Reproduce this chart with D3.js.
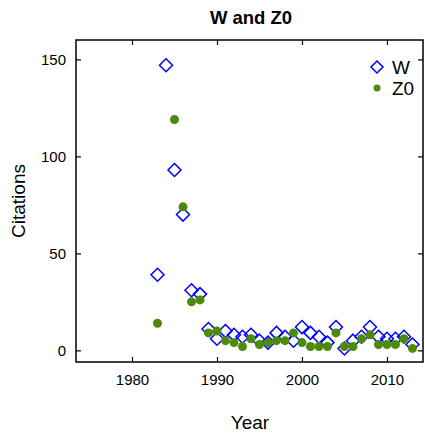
<!DOCTYPE html>
<html><head><meta charset="utf-8">
<script src="https://cdn.jsdelivr.net/npm/d3@7/dist/d3.min.js"></script>
<style>body{margin:0;background:#fff;} text{font-family:"Liberation Sans",Arial,sans-serif;}</style>
</head><body>
<svg id="c" width="425" height="434"></svg>
<script>
const years = [1983,1984,1985,1986,1987,1988,1989,1990,1991,1992,1993,1994,1995,1996,1997,1998,1999,2000,2001,2002,2003,2004,2005,2006,2007,2008,2009,2010,2011,2012,2013];
const wValues = [39,147,93,70,31,29,11,6,10,8,7,8,5,4,9,7,5,12,9,7,4,12,1,5,7,12,7,6,6,7,3];
const z0Values = [14,null,119,74,25,26,9,10,5,4,2,6,3,4,5,5,9,4,2,2,2,9,2,2,6,8,3,3,3,6,1];
const xTicks = [1980,1990,2000,2010];
const yTicks = [0,50,100,150];
const seriesNames = ["W","Z0"];

const svg = d3.select("#c");
const L=76,R=423,T=40,B=362;
const x = d3.scaleLinear().domain([1973.41,2014.24]).range([L,R]);
const y = d3.scaleLinear().domain([-6,160]).range([B,T]);
const blue="#0000ff", green="#4b8a0b";

// frame
svg.append("rect").attr("x",L).attr("y",T).attr("width",R-L).attr("height",B-T)
  .attr("fill","none").attr("stroke","#000").attr("stroke-width",1.5);

// axes
const gx = svg.append("g").attr("transform",`translate(0,${B})`)
  .call(d3.axisBottom(x).tickValues(xTicks).tickFormat(d3.format("d")).tickSizeInner(-5).tickSizeOuter(0).tickPadding(12));
const gxt = svg.append("g").attr("transform",`translate(0,${T})`)
  .call(d3.axisTop(x).tickValues(xTicks).tickFormat("").tickSizeInner(-5).tickSizeOuter(0));
const gy = svg.append("g").attr("transform",`translate(${L},0)`)
  .call(d3.axisLeft(y).tickValues(yTicks).tickSizeInner(-5).tickSizeOuter(0).tickPadding(10));
const gyr = svg.append("g").attr("transform",`translate(${R},0)`)
  .call(d3.axisRight(y).tickValues(yTicks).tickFormat("").tickSizeInner(-5).tickSizeOuter(0));
[gx,gxt,gy,gyr].forEach(g=>{g.select(".domain").remove();g.selectAll("line").attr("stroke","#000").attr("stroke-width",1.2);
  g.selectAll("text").attr("font-size",15).attr("fill","#000").style("font-family","'Liberation Sans',Arial,sans-serif");});

// W diamonds
const ds=6.5;
svg.append("g").selectAll("path").data(years.map((yr,i)=>({yr,v:wValues[i]})).filter(d=>d.v!=null))
  .join("path")
  .attr("d",d=>{const cx=x(d.yr),cy=y(d.v);return `M${cx},${cy-ds}L${cx+ds},${cy}L${cx},${cy+ds}L${cx-ds},${cy}Z`;})
  .attr("fill","none").attr("stroke",blue).attr("stroke-width",1.5);
// Z0 dots
svg.append("g").selectAll("circle").data(years.map((yr,i)=>({yr,v:z0Values[i]})).filter(d=>d.v!=null))
  .join("circle").attr("cx",d=>x(d.yr)).attr("cy",d=>y(d.v)).attr("r",4.5).attr("fill",green);

// legend
const lx=377, ly=[67,88];
svg.append("path").attr("d",`M${lx},${ly[0]-6}L${lx+6},${ly[0]}L${lx},${ly[0]+6}L${lx-6},${ly[0]}Z`)
  .attr("fill","none").attr("stroke",blue).attr("stroke-width",1.5);
svg.append("circle").attr("cx",lx).attr("cy",ly[1]).attr("r",3.5).attr("fill",green);
seriesNames.forEach((n,i)=>svg.append("text").attr("x",392).attr("y",ly[i]+7).attr("font-size",19).text(n));

// title & labels
svg.append("text").attr("x",251).attr("y",24).attr("text-anchor","middle").attr("font-size",18.5).attr("font-weight","bold").text("W and Z0");
svg.append("text").attr("x",250).attr("y",429).attr("text-anchor","middle").attr("font-size",19).text("Year");
svg.append("text").attr("transform","translate(25,201) rotate(-90)").attr("text-anchor","middle").attr("font-size",19).text("Citations");
</script>
</body></html>
